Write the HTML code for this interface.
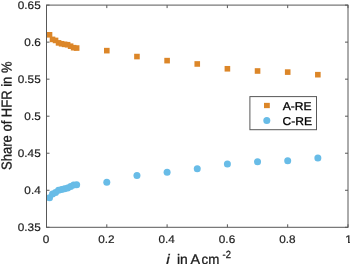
<!DOCTYPE html><html><head><meta charset="utf-8"><title>Share of HFR</title><style>html,body{margin:0;padding:0;background:#fff;overflow:hidden}svg{display:block}text{font-family:"Liberation Sans",Arial,Helvetica,sans-serif;text-rendering:geometricPrecision}</style></head><body>
<svg width="350" height="264" viewBox="0 0 350 264">
<rect x="0" y="0" width="350" height="264" fill="#fff"/>
<rect x="46.72" y="32.00" width="5.6" height="5.6" fill="#dc8628"/>
<rect x="49.73" y="36.59" width="5.6" height="5.6" fill="#dc8628"/>
<rect x="52.75" y="37.63" width="5.6" height="5.6" fill="#dc8628"/>
<rect x="55.76" y="40.07" width="5.6" height="5.6" fill="#dc8628"/>
<rect x="58.78" y="40.96" width="5.6" height="5.6" fill="#dc8628"/>
<rect x="61.79" y="41.55" width="5.6" height="5.6" fill="#dc8628"/>
<rect x="64.81" y="41.92" width="5.6" height="5.6" fill="#dc8628"/>
<rect x="67.82" y="43.40" width="5.6" height="5.6" fill="#dc8628"/>
<rect x="70.83" y="44.88" width="5.6" height="5.6" fill="#dc8628"/>
<rect x="73.85" y="45.25" width="5.6" height="5.6" fill="#dc8628"/>
<rect x="104.00" y="47.84" width="5.6" height="5.6" fill="#dc8628"/>
<rect x="134.15" y="53.76" width="5.6" height="5.6" fill="#dc8628"/>
<rect x="164.30" y="57.83" width="5.6" height="5.6" fill="#dc8628"/>
<rect x="194.45" y="61.16" width="5.6" height="5.6" fill="#dc8628"/>
<rect x="224.60" y="65.97" width="5.6" height="5.6" fill="#dc8628"/>
<rect x="254.75" y="68.19" width="5.6" height="5.6" fill="#dc8628"/>
<rect x="284.90" y="69.30" width="5.6" height="5.6" fill="#dc8628"/>
<rect x="315.05" y="71.89" width="5.6" height="5.6" fill="#dc8628"/>
<circle cx="49.52" cy="197.70" r="3.5" fill="#68bce7"/>
<circle cx="52.53" cy="194.00" r="3.5" fill="#68bce7"/>
<circle cx="55.55" cy="192.52" r="3.5" fill="#68bce7"/>
<circle cx="58.56" cy="190.30" r="3.5" fill="#68bce7"/>
<circle cx="61.58" cy="189.56" r="3.5" fill="#68bce7"/>
<circle cx="64.59" cy="188.82" r="3.5" fill="#68bce7"/>
<circle cx="67.61" cy="188.08" r="3.5" fill="#68bce7"/>
<circle cx="70.62" cy="186.60" r="3.5" fill="#68bce7"/>
<circle cx="73.63" cy="185.12" r="3.5" fill="#68bce7"/>
<circle cx="76.65" cy="184.75" r="3.5" fill="#68bce7"/>
<circle cx="106.80" cy="182.16" r="3.5" fill="#68bce7"/>
<circle cx="136.95" cy="175.50" r="3.5" fill="#68bce7"/>
<circle cx="167.10" cy="172.17" r="3.5" fill="#68bce7"/>
<circle cx="197.25" cy="168.84" r="3.5" fill="#68bce7"/>
<circle cx="227.40" cy="164.03" r="3.5" fill="#68bce7"/>
<circle cx="257.55" cy="161.81" r="3.5" fill="#68bce7"/>
<circle cx="287.70" cy="160.70" r="3.5" fill="#68bce7"/>
<circle cx="317.85" cy="158.11" r="3.5" fill="#68bce7"/>
<rect x="46.5" y="5.1" width="301.5" height="222.20000000000002" fill="none" stroke="#585858" stroke-width="1"/>
<path d="M46.50 227.3v-3M46.50 5.1v3" stroke="#585858" stroke-width="1" fill="none"/>
<path d="M106.80 227.3v-3M106.80 5.1v3" stroke="#585858" stroke-width="1" fill="none"/>
<path d="M167.10 227.3v-3M167.10 5.1v3" stroke="#585858" stroke-width="1" fill="none"/>
<path d="M227.40 227.3v-3M227.40 5.1v3" stroke="#585858" stroke-width="1" fill="none"/>
<path d="M287.70 227.3v-3M287.70 5.1v3" stroke="#585858" stroke-width="1" fill="none"/>
<path d="M348.00 227.3v-3M348.00 5.1v3" stroke="#585858" stroke-width="1" fill="none"/>
<path d="M46.5 5.10h3M348.0 5.10h-3" stroke="#585858" stroke-width="1" fill="none"/>
<path d="M46.5 42.13h3M348.0 42.13h-3" stroke="#585858" stroke-width="1" fill="none"/>
<path d="M46.5 79.17h3M348.0 79.17h-3" stroke="#585858" stroke-width="1" fill="none"/>
<path d="M46.5 116.20h3M348.0 116.20h-3" stroke="#585858" stroke-width="1" fill="none"/>
<path d="M46.5 153.23h3M348.0 153.23h-3" stroke="#585858" stroke-width="1" fill="none"/>
<path d="M46.5 190.27h3M348.0 190.27h-3" stroke="#585858" stroke-width="1" fill="none"/>
<path d="M46.5 227.30h3M348.0 227.30h-3" stroke="#585858" stroke-width="1" fill="none"/>
<text transform="translate(46.10 243.20) scale(1.06 1)" font-size="11.1" text-anchor="middle" fill="#1c1c1c" stroke="#1c1c1c" stroke-width="0.2" >0</text>
<text transform="translate(106.40 243.20) scale(1.06 1)" font-size="11.1" text-anchor="middle" fill="#1c1c1c" stroke="#1c1c1c" stroke-width="0.2" >0.2</text>
<text transform="translate(166.70 243.20) scale(1.06 1)" font-size="11.1" text-anchor="middle" fill="#1c1c1c" stroke="#1c1c1c" stroke-width="0.2" >0.4</text>
<text transform="translate(227.00 243.20) scale(1.06 1)" font-size="11.1" text-anchor="middle" fill="#1c1c1c" stroke="#1c1c1c" stroke-width="0.2" >0.6</text>
<text transform="translate(287.30 243.20) scale(1.06 1)" font-size="11.1" text-anchor="middle" fill="#1c1c1c" stroke="#1c1c1c" stroke-width="0.2" >0.8</text>
<text transform="translate(348.40 243.20) scale(1.06 1)" font-size="11.1" text-anchor="middle" fill="#1c1c1c" stroke="#1c1c1c" stroke-width="0.2" >1</text>
<text transform="translate(40.70 9.10) scale(1.06 1)" font-size="11.1" text-anchor="end" fill="#1c1c1c" stroke="#1c1c1c" stroke-width="0.2" >0.65</text>
<text transform="translate(40.70 46.13) scale(1.06 1)" font-size="11.1" text-anchor="end" fill="#1c1c1c" stroke="#1c1c1c" stroke-width="0.2" >0.6</text>
<text transform="translate(40.70 83.17) scale(1.06 1)" font-size="11.1" text-anchor="end" fill="#1c1c1c" stroke="#1c1c1c" stroke-width="0.2" >0.55</text>
<text transform="translate(40.70 120.20) scale(1.06 1)" font-size="11.1" text-anchor="end" fill="#1c1c1c" stroke="#1c1c1c" stroke-width="0.2" >0.5</text>
<text transform="translate(40.70 157.23) scale(1.06 1)" font-size="11.1" text-anchor="end" fill="#1c1c1c" stroke="#1c1c1c" stroke-width="0.2" >0.45</text>
<text transform="translate(40.70 194.27) scale(1.06 1)" font-size="11.1" text-anchor="end" fill="#1c1c1c" stroke="#1c1c1c" stroke-width="0.2" >0.4</text>
<text transform="translate(40.70 231.30) scale(1.06 1)" font-size="11.1" text-anchor="end" fill="#1c1c1c" stroke="#1c1c1c" stroke-width="0.2" >0.35</text>
<rect x="344" y="241.95" width="4" height="1.6" fill="#fff"/>
<text transform="translate(11.5 115.7) rotate(-89.95) scale(1 1.10)" font-size="13" text-anchor="middle" fill="#1c1c1c" stroke="#1c1c1c" stroke-width="0.3">Share of HFR in %</text>
<text transform="translate(166.19 264.30) scale(1.12 1)" font-size="13.8" text-anchor="start" fill="#1c1c1c" stroke="#1c1c1c" stroke-width="0.3" font-style="italic">i</text>
<text transform="translate(177.03 264.30) scale(1.008 1)" font-size="13.8" text-anchor="start" fill="#1c1c1c" stroke="#1c1c1c" stroke-width="0.3" >in</text>
<text transform="translate(190.60 264.30) scale(1.043 1)" font-size="13.8" text-anchor="start" fill="#1c1c1c" stroke="#1c1c1c" stroke-width="0.3" >A</text>
<text transform="translate(201.47 264.30) scale(0.966 1)" font-size="13.8" text-anchor="start" fill="#1c1c1c" stroke="#1c1c1c" stroke-width="0.3" >cm</text>
<text transform="translate(222.53 257.80) scale(0.901 1)" font-size="10.4" text-anchor="start" fill="#1c1c1c" stroke="#1c1c1c" stroke-width="0.3" >-2</text>
<rect x="249.9" y="96.6" width="66.6" height="33.1" fill="#fff" stroke="#585858" stroke-width="1"/>
<rect x="264.00" y="102.85" width="5.8" height="5.3" fill="#dc8628"/>
<circle cx="266.8" cy="120.5" r="3.5" fill="#68bce7"/>
<text transform="translate(282.70 109.70) scale(1.06 1)" font-size="11.4" text-anchor="start" fill="#000" stroke="#000" stroke-width="0.3" >A-RE</text>
<text transform="translate(282.60 124.60) scale(1.06 1)" font-size="11.4" text-anchor="start" fill="#000" stroke="#000" stroke-width="0.3" >C-RE</text>
</svg></body></html>
